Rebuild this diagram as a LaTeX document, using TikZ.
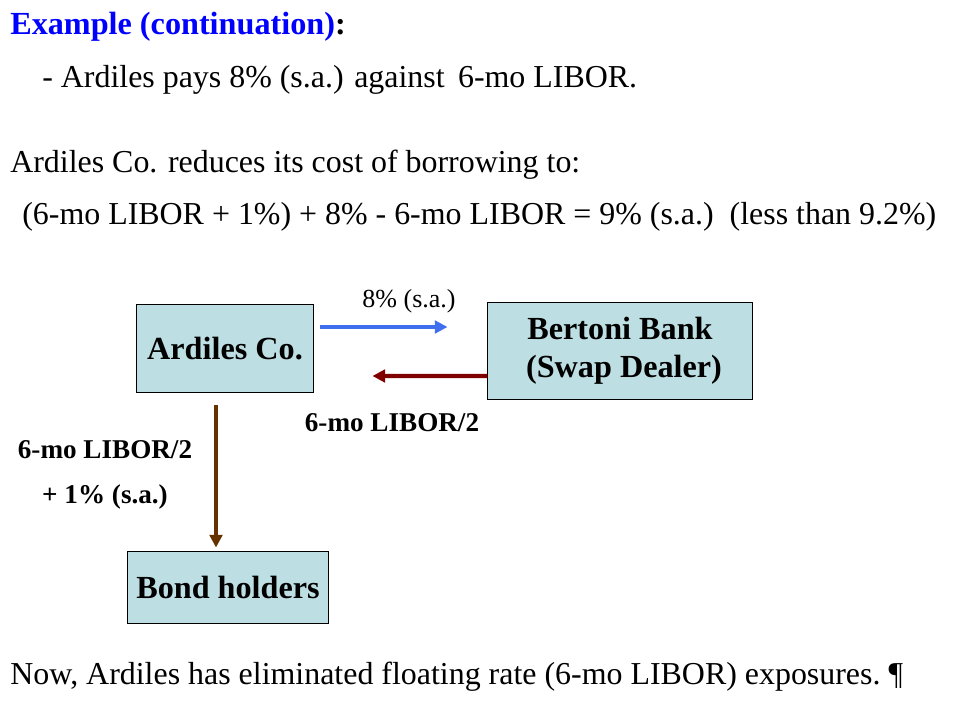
\documentclass[tikz,border=0pt]{standalone}
\usepackage{fontspec}
\setmainfont{Liberation Serif}
\usetikzlibrary{calc,arrows.meta}
\definecolor{boxblue}{HTML}{BDDFE3}
\definecolor{payblue}{HTML}{3F6FEF}
\definecolor{libred}{HTML}{800000}
\definecolor{bondbrown}{HTML}{663300}
\tikzset{
  party/.style={draw=black, line width=0.7pt, fill=boxblue, font=\fontsize{22.9}{27}\selectfont\bfseries, align=center, inner sep=0pt},
  line/.style={anchor=base west, inner sep=0pt, font=\fontsize{22.7}{26}\selectfont},
  flowlabel/.style={inner sep=0pt, font=\fontsize{19.3}{22}\selectfont\bfseries},
  flow/.style={line width=3pt, -{Triangle[length=9pt,width=9pt]}}
}
\begin{document}
\begin{tikzpicture}[x=0.025cm, y=-0.025cm]
			%%%%% START %%%%%
			\useasboundingbox (0,0) rectangle (960,720);
			
			\node[line, font=\fontsize{22.9}{26}\selectfont\bfseries] (title) at (10,35) {\textcolor{blue}{Example (continuation)}:};
			\node[line] (pays) at (42,88) {- Ardiles pays 8\% (s.a.) against\, 6-mo LIBOR.};
			\node[line] (reduces) at (10,173) {Ardiles Co. reduces its cost of borrowing to:};
			\node[line] (cost) at (22,225) {(6-mo LIBOR + 1\%) + 8\% - 6-mo LIBOR = 9\% (s.a.)\ \ (less than 9.2\%)};
			
			\node[party, minimum width=4.4cm, minimum height=2.175cm] (ardiles) at (225,348.5) {Ardiles Co.};
			\node[party, minimum width=6.6cm, minimum height=2.4cm] (bertoni) at (620,351) {Bertoni Bank\\ \ (Swap Dealer)};
			\node[party, minimum width=5cm, minimum height=1.775cm] (bond) at (228,587.5) {Bond holders};
			
			\draw[flow, payblue] ($(ardiles.east)+(6,-21.5)$) -- ($(bertoni.west)+(-40,-24)$);
			\node[inner sep=0pt, font=\fontsize{18.5}{21}\selectfont] (fixed) at (409,301) {8\% (s.a.)};
			
			\draw[flow, libred] ($(bertoni.west)+(0,25)$) -- ($(ardiles.east)+(59,27.5)$);
			\node[flowlabel] (floating) at (392,423) {6-mo LIBOR/2};
			
			\draw[flow, bondbrown, line width=3.5pt] ($(ardiles.south)+(-9,12)$) -- ($(bond.north)+(-12,-4)$);
			\node[flowlabel] (coupon) at (105,450) {6-mo LIBOR/2};
			\node[flowlabel] (spread) at (105,497) {+ 1\% (s.a.)};
			
			\node[line] (now) at (10,684) {Now, Ardiles has eliminated floating rate (6-mo LIBOR) exposures.\ \P};
			%%%%% END %%%%%
\end{tikzpicture}
\end{document}
